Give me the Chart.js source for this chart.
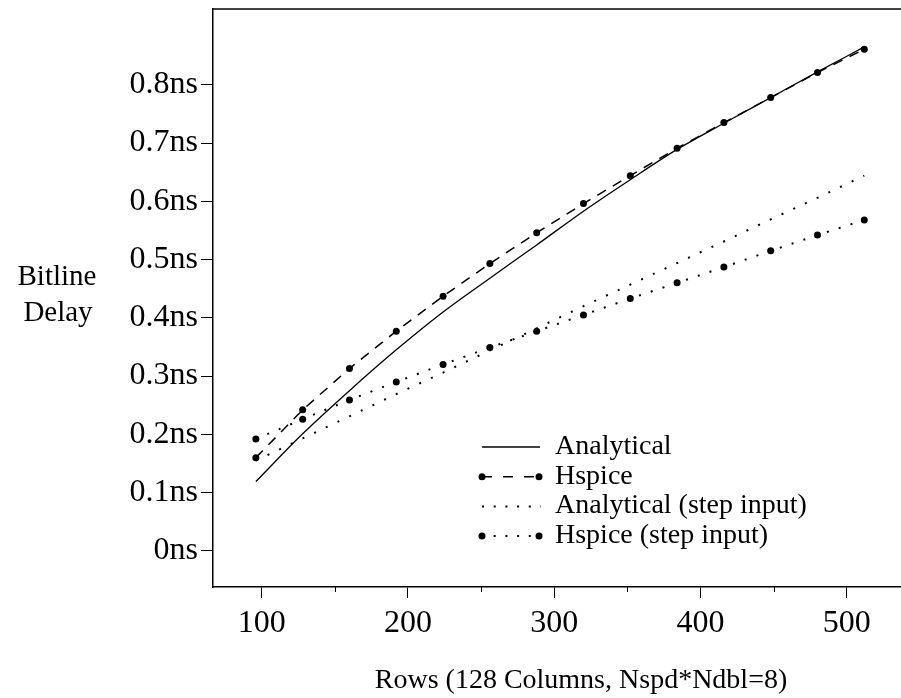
<!DOCTYPE html>
<html><head><meta charset="utf-8">
<script src="https://cdn.jsdelivr.net/npm/chart.js@4.4.0/dist/chart.umd.min.js"></script>
<style>html,body{margin:0;padding:0;background:#fff;overflow:hidden}
#wrap{position:relative;width:901px;height:698px}</style>
</head><body><div id="wrap"><canvas id="c" width="901" height="698"></canvas></div>
<script>
// ---- data ----
const rows = [96,128,160,192,224,256,288,320,352,384,416,448,480,512];
const analytical     = [0.119,0.201,0.275,0.345,0.410,0.468,0.525,0.583,0.637,0.689,0.734,0.778,0.822,0.865];
const hspice         = [0.160,0.242,0.313,0.377,0.437,0.493,0.546,0.596,0.644,0.691,0.735,0.778,0.821,0.861];
const analyticalStep = [0.155,0.193,0.231,0.269,0.306,0.344,0.382,0.420,0.457,0.494,0.531,0.569,0.606,0.644];
const hspiceStep     = [0.192,0.226,0.259,0.290,0.320,0.349,0.377,0.405,0.433,0.460,0.487,0.515,0.542,0.568];
const seriesNames = ['Analytical','Hspice','Analytical (step input)','Hspice (step input)'];
const xTicks = [100,200,300,400,500];
const xTickLabels = ['100','200','300','400','500'];
const xMinorTicks = [150,250,350,450];
const yTicks = [0,0.1,0.2,0.3,0.4,0.5,0.6,0.7,0.8];
const yTickLabels = ['0ns','0.1ns','0.2ns','0.3ns','0.4ns','0.5ns','0.6ns','0.7ns','0.8ns'];
const xTitle = 'Rows (128 Columns, Nspd*Ndbl=8)';
const yTitleLines = ['Bitline','Delay'];

const FONT = 'Liberation Serif';
Chart.defaults.font.family = FONT;
Chart.defaults.color = '#000';

const pts = arr => rows.map((r,i)=>({x:r,y:arr[i]}));

const styles = [
  {borderWidth:1.3, borderDash:[], pointRadius:0},
  {borderWidth:1.5, borderDash:[10,8], pointRadius:3.5},
  {borderWidth:2, borderDash:[2,10.9], pointRadius:0},
  {borderWidth:2, borderDash:[2,10.4], pointRadius:3.5}
];
const seriesData = [analytical, hspice, analyticalStep, hspiceStep];

const datasets = seriesData.map((arr,i)=>({
  label: seriesNames[i],
  data: pts(arr),
  borderColor:'#000',
  backgroundColor:'#000',
  pointBackgroundColor:'#000',
  pointBorderWidth:0,
  borderWidth: styles[i].borderWidth,
  borderDash: styles[i].borderDash,
  borderCapStyle:'butt',
  pointRadius: styles[i].pointRadius,
  cubicInterpolationMode: i===0 ? 'monotone' : 'default',
  tension: 0,
  fill:false
}));

const decor = {
  id:'decor',
  afterDraw(chart){
    const {ctx, chartArea:a, scales:{x}} = chart;
    ctx.save();
    ctx.strokeStyle='#000'; ctx.fillStyle='#000';
    // top frame
    ctx.lineWidth=1.5;
    ctx.beginPath(); ctx.moveTo(a.left, a.top); ctx.lineTo(a.right, a.top); ctx.stroke();
    // minor x ticks
    ctx.lineWidth=1;
    xMinorTicks.forEach(v=>{
      const px = Math.round(x.getPixelForValue(v))+0.5;
      ctx.beginPath(); ctx.moveTo(px, a.bottom); ctx.lineTo(px, a.bottom+5); ctx.stroke();
    });
    // y title (horizontal)
    ctx.font = '29px "'+FONT+'"';
    ctx.textAlign='center'; ctx.textBaseline='alphabetic';
    ctx.fillText(yTitleLines[0], 57, 285);
    ctx.fillText(yTitleLines[1], 58, 321);
    // x title
    ctx.font = '28px "'+FONT+'"';
    ctx.fillText(xTitle, 581, 688);
    // legend
    const lx0=482, lx1=540, tx=555, ly0=447, step=29.7;
    ctx.font = '28px "'+FONT+'"';
    ctx.textAlign='left';
    chart.data.datasets.forEach((ds,i)=>{
      const y = ly0 + i*step;
      ctx.save();
      ctx.lineWidth = ds.borderWidth;
      ctx.lineCap='butt';
      ctx.setLineDash(i===1?[10,11]:(i>=2?[2,9.7]:[]));
      ctx.beginPath(); ctx.moveTo(lx0, y); ctx.lineTo(i>=2?lx1+1:lx1, y); ctx.stroke();
      ctx.restore();
      if (ds.pointRadius>0){
        [lx0, lx1-1].forEach(px=>{ctx.beginPath(); ctx.arc(px, y, 3.5, 0, Math.PI*2); ctx.fill();});
      }
      ctx.fillText(ds.label, tx, y+7);
    });
    ctx.restore();
  }
};

new Chart(document.getElementById('c'), {
  type:'line',
  data:{datasets},
  options:{
    responsive:false, animation:false, devicePixelRatio:1,
    layout:{autoPadding:false, padding:{top:9,left:0,right:0,bottom:0}},
    plugins:{legend:{display:false}, tooltip:{enabled:false}},
    scales:{
      x:{
        type:'linear', min:66.7, max:537.1,
        afterBuildTicks: s=>{ s.ticks = xTicks.map(v=>({value:v})); },
        afterFit: s=>{ s.height = 111; s.paddingLeft = 0; s.paddingRight = 0; },
        grid:{drawOnChartArea:false, drawTicks:true, tickLength:11, color:'#000', tickWidth:1},
        border:{display:true, color:'#000', width:1.5},
        ticks:{font:{size:32, family:FONT}, color:'#000', padding:6, maxRotation:0,
          callback:(v)=>xTickLabels[xTicks.indexOf(v)]}
      },
      y:{
        type:'linear', min:-0.062, max:0.93,
        afterBuildTicks: s=>{ s.ticks = yTicks.map(v=>({value:v})); },
        afterFit: s=>{ s.width = 213; s.paddingTop = 0; s.paddingBottom = 0; },
        grid:{drawOnChartArea:false, drawTicks:true, tickLength:12, color:'#000', tickWidth:1},
        border:{display:true, color:'#000', width:1.5},
        ticks:{font:{size:32, family:FONT}, color:'#000', padding:3,
          callback:(v)=>yTickLabels[yTicks.findIndex(t=>Math.abs(t-v)<1e-9)]}
      }
    }
  },
  plugins:[decor]
});
</script></body></html>
